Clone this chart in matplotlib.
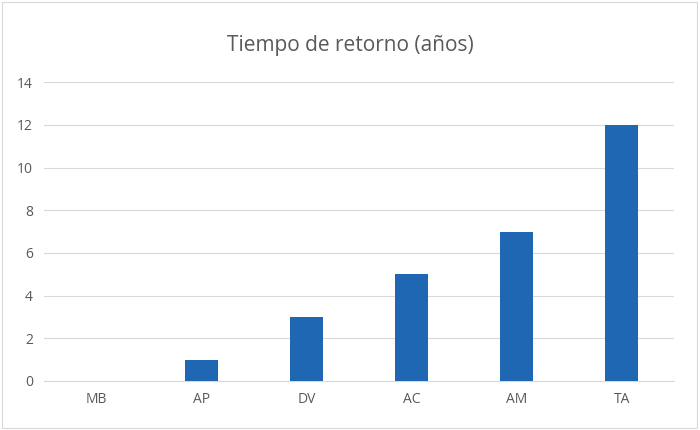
import matplotlib
matplotlib.use("Agg")
import matplotlib.pyplot as plt
from matplotlib.patches import Rectangle

categories = ["MB", "AP", "DV", "AC", "AM", "TA"]
values = [0, 1, 3, 5, 7, 12]
yticks = [0, 2, 4, 6, 8, 10, 12, 14]

plt.rcParams['font.family'] = ['Open Sans', 'DejaVu Sans']
fig = plt.figure(figsize=(7, 4.3), dpi=100)
ax = fig.add_axes([0.063, 0.114, 0.9, 0.695])
x = range(len(categories))
ax.bar(x, values, width=0.31, color="#1f66b3", zorder=3)
ax.set_xlim(-0.5, len(categories) - 0.5)
ax.set_ylim(0, 14)
ax.set_yticks(yticks)
ax.set_xticks(list(x))
ax.set_xticklabels(categories)
ax.grid(axis="y", color="#d9d9d9", linewidth=0.8, zorder=0)
for s in ["top", "right", "left"]:
    ax.spines[s].set_visible(False)
ax.spines["bottom"].set_color("#d9d9d9")
ax.tick_params(length=0, colors="#595959", labelsize=10, pad=8)
fig.text(0.5, 0.895, "Tiempo de retorno (años)", ha="center", va="center",
         fontsize=15, color="#595959")
fig.patches.append(Rectangle((0.003, 0.005), 0.993, 0.99, transform=fig.transFigure,
                             fill=False, edgecolor="#d9d9d9", linewidth=0.8))
fig.savefig("out.png", dpi=100)
